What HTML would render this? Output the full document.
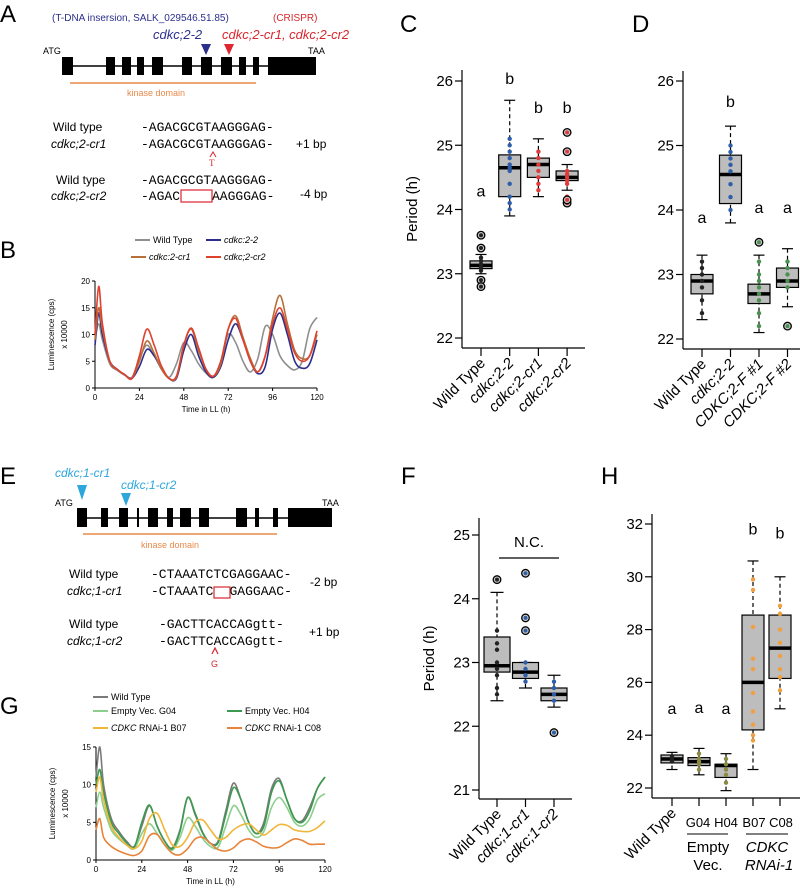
<!DOCTYPE html>
<html><head><meta charset="utf-8"><style>
body{margin:0;background:#fff}
svg{display:block;font-family:"Liberation Sans",sans-serif}
.mono{font-family:"Liberation Mono",monospace;font-size:13px;white-space:pre}
</style></head><body>
<svg id="fig" width="800" height="890" viewBox="0 0 800 890" xmlns="http://www.w3.org/2000/svg" xml:space="preserve">
<g font-size="24">
<text x="0" y="22">A</text>
<text x="0" y="258">B</text>
<text x="400" y="32">C</text>
<text x="632" y="32">D</text>
<text x="0" y="484">E</text>
<text x="0" y="714">G</text>
<text x="401" y="484">F</text>
<text x="601" y="484">H</text>
</g>
<g>
<text x="52" y="21" font-size="10" fill="#2b2f8c">(T-DNA insersion, SALK_029546.51.85)</text>
<text x="273" y="21" font-size="10" fill="#d8262e">(CRISPR)</text>
<text x="153" y="39" font-size="13" font-style="italic" fill="#2b2f8c">cdkc;2-2</text>
<text x="222" y="39" font-size="13" font-style="italic" fill="#d8262e">cdkc;2-cr1, cdkc;2-cr2</text>
<polygon points="201,44 211,44 206,55" fill="#2b2f8c"/>
<polygon points="224,44 234,44 229,55" fill="#e0262e"/>
<text x="43" y="54" font-size="9">ATG</text>
<text x="308" y="54" font-size="9">TAA</text>
<line x1="62" y1="66" x2="300" y2="66" stroke="#000" stroke-width="1.5"/>
<g id="exA"></g>
<line x1="70" y1="83" x2="256" y2="83" stroke="#e8894a" stroke-width="1.5"/>
<text x="127" y="96" font-size="9" fill="#e8894a">kinase domain</text>
<text x="53" y="131" font-size="12">Wild type</text>
<text x="51" y="148" font-size="12" font-style="italic">cdkc;2-cr1</text>
<text x="141" y="131" class="mono">-AGACGCGTAAGGGAG-</text>
<text x="141" y="148" class="mono">-AGACGCGTAAGGGAG-</text>
<text x="296" y="148" font-size="12">+1 bp</text>
<path d="M210,157 L213,152 L216,157" fill="none" stroke="#d8262e" stroke-width="1"/>
<text x="209" y="166" font-size="9" fill="#d8262e" font-family="Liberation Serif">T</text>
<text x="56" y="184" font-size="12">Wild type</text>
<text x="51" y="200" font-size="12" font-style="italic">cdkc;2-cr2</text>
<text x="141" y="184" class="mono">-AGACGCGTAAGGGAG-</text>
<text x="141" y="200" class="mono">-AGAC</text>
<text x="212" y="200" class="mono">AAGGGAG-</text>
<rect x="181" y="190" width="31" height="12" fill="none" stroke="#d8262e" stroke-width="1.2"/>
<text x="300" y="198" font-size="12">-4 bp</text>
</g>
<g>
<text x="55" y="477" font-size="12" font-style="italic" fill="#2ea6dc">cdkc;1-cr1</text>
<text x="121" y="489" font-size="12" font-style="italic" fill="#2ea6dc">cdkc;1-cr2</text>
<polygon points="77,485 87,485 82,500" fill="#2ea6dc"/>
<polygon points="121,493 131,493 126,506" fill="#2ea6dc"/>
<text x="55" y="506" font-size="9">ATG</text>
<text x="322" y="506" font-size="9">TAA</text>
<line x1="77" y1="518" x2="320" y2="518" stroke="#000" stroke-width="1.5"/>
<g id="exE"></g>
<line x1="83" y1="534" x2="277" y2="534" stroke="#e8894a" stroke-width="1.5"/>
<text x="141" y="548" font-size="9" fill="#e8894a">kinase domain</text>
<text x="69" y="578" font-size="12">Wild type</text>
<text x="67" y="595" font-size="12" font-style="italic">cdkc;1-cr1</text>
<text x="151" y="578" class="mono">-CTAAATCTCGAGGAAC-</text>
<text x="151" y="595" class="mono">-CTAAATC</text>
<text x="229.5" y="595" class="mono">GAGGAAC-</text>
<rect x="214" y="587" width="16" height="11" fill="none" stroke="#d8262e" stroke-width="1.2"/>
<text x="310" y="586" font-size="12">-2 bp</text>
<text x="69" y="628" font-size="12">Wild type</text>
<text x="67" y="645" font-size="12" font-style="italic">cdkc;1-cr2</text>
<text x="159" y="628" class="mono">-GACTTCACCAGgtt-</text>
<text x="159" y="645" class="mono">-GACTTCACCAGgtt-</text>
<text x="309" y="636" font-size="12">+1 bp</text>
<path d="M212,654 L215,648 L218,654" fill="none" stroke="#d8262e" stroke-width="1.2"/>
<text x="211" y="667" font-size="9" fill="#d8262e">G</text>
</g>
<g id="charts"></g>
</svg>
<script>
const times=[0,2,4,8,12,16,20,24,28,32,36,40,44,48,52,56,60,64,68,72,76,80,84,88,92,96,100,104,108,112,116,120];
const B_wt=[9,12,9,4.5,3.3,2.4,2,5.5,8,6,4,2,4.5,8.5,7,4.5,2.8,2,5,10,8.5,5,3,5.5,11.5,10,6,4.2,3.4,5,11,13.2];
const B_cdkc22=[8,14,10,5,3.5,2.5,1.8,4,7.2,6,3.5,1.8,1.8,7,10,6,3,2,4,9,12,9,5,2.7,4,11,14,10,5,3.7,4.5,9];
const B_cr1=[9,15,11,5,3.5,2.5,1.8,5,8.8,6.5,3.5,1.8,2,8,11,7,3.5,2.2,4.5,11,13.5,9.5,5.5,3,6,13,17.3,12,7,5.5,6,10];
const B_cr2=[10,19,12,5,3.5,2.5,1.8,6,11,8,4,1.8,2.2,8,11.2,7.5,3.5,2.2,5,11,13,9,5,3,6,12,15,11,6.5,5,6,10.7];
const G_wt=[11,15,10,5.5,3.8,2.5,1.8,4.5,7.2,4.5,2.5,1.6,4,8.3,6,3.5,2.2,2.5,6.5,10.2,8,5,3.5,5,9.5,10.8,8,5.5,5.2,7,9.5,11];
const G_h04=[10,12,9,5,3.5,2.3,1.7,5,7.3,4.5,2.5,1.5,3.8,8.3,6.2,3.6,2.2,2.3,6,9.6,8,5,3.5,4.5,9,10.5,8,5.5,5,6.5,9.5,11];
const G_g04=[7,9,7,4,2.8,2,1.5,3.5,4.8,3.5,2,1.3,3,5.6,4.5,2.8,1.8,1.7,4.5,7.2,6,4,3,3.8,7,8.3,7,5,4.5,5.5,8,8.8];
const G_b07=[9,11,8,4.5,3,2,1.5,2.5,5.5,6.2,4,2,1.8,3,5,5.3,4,2.8,3,4,4.6,4.8,4,3.3,4,4.7,4.6,4,3.8,3.8,4.3,5.2];
const G_c08=[4,5.5,3,1.8,1.2,0.8,0.6,1.2,3.2,3.4,2,0.9,0.7,1.5,2.8,3,2.2,1.4,1.2,1.6,2.5,2.8,2.4,1.8,1.6,1.7,2.3,2.8,2.6,2.1,2.1,2.1];
const xTicksLL=[0,24,48,72,96,120];
const B_yTicks=[0,5,10,15,20];
const G_yTicks=[0,5,10,15];
const C_cats=["Wild Type","cdkc;2-2","cdkc;2-cr1","cdkc;2-cr2"];
const C_lo=[23.0,23.9,24.2,24.3], C_q1=[23.08,24.2,24.5,24.45], C_med=[23.13,24.65,24.7,24.5], C_q3=[23.2,24.85,24.8,24.6], C_hi=[23.3,25.7,25.1,24.7];
const C_out=[[23.6,23.4,22.9,22.8],[],[],[25.2,24.9,24.1,24.15]];
const C_pts=[[23.1,23.15,23.2,23.25,23.05],[24.0,24.1,24.2,24.4,24.6,24.65,24.7,24.8,24.9,25.0,25.1],[24.3,24.4,24.5,24.6,24.7,24.8,24.9],[24.4,24.45,24.5,24.55,24.6,24.2]];
const C_letters=["a","b","b","b"], C_letterY=[24.2,25.95,25.5,25.5];
const C_yTicks=[22,23,24,25,26];
const D_cats=["Wild Type","cdkc;2-2","CDKC;2-F #1","CDKC;2-F #2"];
const D_lo=[22.3,23.8,22.1,22.5], D_q1=[22.7,24.1,22.55,22.8], D_med=[22.9,24.55,22.7,22.9], D_q3=[23.0,24.85,22.85,23.1], D_hi=[23.3,25.3,23.3,23.4];
const D_out=[[],[],[23.5],[22.2]];
const D_pts=[[22.4,22.6,22.8,22.9,23.0,23.1,23.2],[24.0,24.2,24.4,24.6,24.7,24.8,24.9,25.0],[22.2,22.4,22.6,22.7,22.8,22.9,23.0,23.2],[22.8,22.9,23.0,23.1,23.2]];
const D_letters=["a","b","a","a"], D_letterY=[23.8,25.6,23.95,23.95];
const D_yTicks=[22,23,24,25,26];
const F_cats=["Wild Type","cdkc;1-cr1","cdkc;1-cr2"];
const F_lo=[22.4,22.6,22.3], F_q1=[22.85,22.75,22.4], F_med=[22.95,22.85,22.5], F_q3=[23.4,23.0,22.6], F_hi=[24.1,23.0,22.8];
const F_out=[[24.3],[24.4,23.7,23.5],[21.9]];
const F_pts=[[22.5,22.6,22.8,22.9,23.0,23.2,23.3,23.5],[22.7,22.8,22.9,23.0],[22.4,22.5,22.6,22.7]];
const F_yTicks=[21,22,23,24,25];
const H_cats=["Wild Type","G04","H04","B07","C08"];
const H_lo=[22.7,22.5,21.9,22.7,25.0], H_q1=[22.95,22.85,22.4,24.2,26.15], H_med=[23.1,23.0,22.85,26.0,27.3], H_q3=[23.25,23.15,22.9,28.55,28.55], H_hi=[23.35,23.5,23.3,30.6,30.0];
const H_pts=[[23.0,23.1,23.2],[22.7,22.9,23.0,23.1,23.3],[22.2,22.5,22.7,22.9,23.1],[23.8,24.0,24.4,24.9,25.6,26.5,26.9,28.1,29.5,29.9],[25.7,26.2,26.5,27.0,27.5,28.0,28.6,28.9]];
const H_letters=["a","a","a","b","b"], H_letterY=[24.8,24.85,24.8,31.6,31.45];
const H_yTicks=[22,24,26,28,30,32];
const exA=[[62,73],[106,115],[122,131],[137,144],[152,163],[182,192],[201,212],[221,232],[239,246],[253,259],[268,316]];
const exE=[[77,87],[101,108],[119,128],[137,139],[148,158],[167,173],[180,191],[199,209],[236,247],[255,259],[273,278],[288,332]];

const NS="http://www.w3.org/2000/svg";
const root=document.getElementById('charts');
function mk(tag,attrs,parent){const e=document.createElementNS(NS,tag);for(const k in attrs)e.setAttribute(k,attrs[k]);(parent||root).appendChild(e);return e;}
function txt(s,attrs,parent){const e=mk('text',attrs,parent);e.textContent=s;return e;}

exA.forEach(r=>{const e=mk('rect',{x:r[0],y:57,width:r[1]-r[0],height:18,fill:'#000'},document.getElementById('exA'));

});
exE.forEach(r=>{const e=mk('rect',{x:r[0],y:508,width:r[1]-r[0],height:19,fill:'#000'},document.getElementById('exE'));

});

function smooth(pts){let d=`M${pts[0][0]},${pts[0][1]}`;for(let i=0;i<pts.length-1;i++){const p0=pts[i-1]||pts[i],p1=pts[i],p2=pts[i+1],p3=pts[i+2]||p2;
const c1=[p1[0]+(p2[0]-p0[0])/6,p1[1]+(p2[1]-p0[1])/6],c2=[p2[0]-(p3[0]-p1[0])/6,p2[1]-(p3[1]-p1[1])/6];
d+=` C${c1[0].toFixed(1)},${c1[1].toFixed(1)} ${c2[0].toFixed(1)},${c2[1].toFixed(1)} ${p2[0].toFixed(1)},${p2[1].toFixed(1)}`;}return d;}

function lineChart(o){
  const g=mk('g',{});
  
  
  const x=t=>o.x0+t*(o.x1-o.x0)/120, y=v=>o.y0-v*(o.y0-o.yTop)/o.ymax;
  mk('line',{x1:o.x0,y1:o.yTop,x2:o.x0,y2:o.y0,stroke:'#000','stroke-width':1},g);
  mk('line',{x1:o.x0,y1:o.y0,x2:o.x1,y2:o.y0,stroke:'#000','stroke-width':1},g);
  o.yTicks.forEach(v=>{mk('line',{x1:o.x0-3,y1:y(v),x2:o.x0,y2:y(v),stroke:'#000'},g);
    const t=txt(String(v),{x:o.x0-5,y:y(v)+3,'font-size':8,'text-anchor':'end'},g);
    
    });
  xTicksLL.forEach(v=>{mk('line',{x1:x(v),y1:o.y0,x2:x(v),y2:o.y0+3,stroke:'#000'},g);
    const t=txt(String(v),{x:x(v),y:o.y0+12,'font-size':8,'text-anchor':'middle'},g);
    
    });
  const xt=txt('Time in LL (h)',{x:(o.x0+o.x1)/2,y:o.y0+24,'font-size':8,'text-anchor':'middle'},g);
  
  
  const cy=(o.y0+o.yTop)/2;
  const yt=txt('Luminescence (cps)',{x:0,y:0,'font-size':8,'text-anchor':'middle',transform:`translate(${o.x0-41},${cy}) rotate(-90)`},g);
  
  
  const yt2=txt('x 10000',{x:0,y:0,'font-size':8,'text-anchor':'middle',transform:`translate(${o.x0-28},${cy}) rotate(-90)`},g);
  
  
  o.series.forEach(s=>{const p=mk('path',{d:smooth(times.map((t,i)=>[x(t),y(s.v[i])])),fill:'none',stroke:s.c,'stroke-width':s.w||1.6},g);
    
    });
}
lineChart({name:'panel-b-chart',x0:95,x1:317,y0:388,yTop:281,ymax:20,yTicks:B_yTicks,series:[
 {id:'wild-type',v:B_wt,c:'#8f8f8f'},{id:'cdkc2-2',v:B_cdkc22,c:'#2b2f8c'},{id:'cdkc2-cr1',v:B_cr1,c:'#b8703a'},{id:'cdkc2-cr2',v:B_cr2,c:'#e0402e'}]});
lineChart({name:'panel-g-chart',x0:96,x1:325,y0:860,yTop:747,ymax:15,yTicks:G_yTicks,series:[
 {id:'wild-type',v:G_wt,c:'#7a7a7a'},{id:'empty-g04',v:G_g04,c:'#8ccf8c'},{id:'empty-h04',v:G_h04,c:'#3c9a50'},{id:'rnai-b07',v:G_b07,c:'#f0b63a'},{id:'rnai-c08',v:G_c08,c:'#e8843a'}]});

function legend(items){items.forEach(it=>{const g=mk('g',{});
  
  
  mk('line',{x1:it.x,y1:it.y,x2:it.x+15,y2:it.y,stroke:it.c,'stroke-width':2},g);
  const t=mk('text',{x:it.x+18,y:it.y+3,'font-size':9},g);
  it.parts.forEach(p=>{const s=mk('tspan',{'font-style':p[1]?'italic':'normal'},t);s.textContent=p[0];});});}
legend([{x:135,y:240,c:'#8f8f8f',parts:[['Wild Type',0]]},{x:206,y:240,c:'#2b2f8c',parts:[['cdkc:2-2',1]]},
 {x:131,y:257,c:'#b8703a',parts:[['cdkc:2-cr1',1]]},{x:206,y:257,c:'#e0402e',parts:[['cdkc;2-cr2',1]]}]);
legend([{x:93,y:697,c:'#7a7a7a',parts:[['Wild Type',0]]},{x:93,y:711,c:'#8ccf8c',parts:[['Empty Vec. G04',0]]},{x:227,y:711,c:'#3c9a50',parts:[[' Empty Vec. H04',0]]},
 {x:93,y:728,c:'#f0b63a',parts:[['CDKC',1],[' RNAi-1 B07',0]]},{x:227,y:728,c:'#e8843a',parts:[['CDKC',1],[' RNAi-1 C08',0]]}]);

function boxChart(o){
  const g=mk('g',{});
  
  
  const y=v=>o.yb-(v-o.vb)*o.k;
  const n=o.cats.length, cx=i=>o.cx0+i*o.dx, hw=o.bw/2;
  mk('line',{x1:o.ax,y1:o.top,x2:o.ax,y2:o.bottom,stroke:'#000','stroke-width':1.2},g);
  mk('line',{x1:o.ax,y1:o.bottom,x2:o.right,y2:o.bottom,stroke:'#000','stroke-width':1.2},g);
  o.yTicks.forEach(v=>{mk('line',{x1:o.ax-7,y1:y(v),x2:o.ax,y2:y(v),stroke:'#000','stroke-width':1.2},g);
    const t=txt(String(v),{x:o.ax-9,y:y(v)+5,'font-size':15,'text-anchor':'end'},g);
    
    });
  if(o.ytitle){const t=txt('Period (h)',{x:0,y:0,'font-size':15,'text-anchor':'middle',transform:`translate(${o.ax-45},${(o.top+o.bottom)/2}) rotate(-90)`},g);
    
    }
  for(let i=0;i<n;i++){const x=cx(i);
    mk('line',{x1:x,y1:o.bottom,x2:x,y2:o.bottom+8,stroke:'#000','stroke-width':1.2},g);
    const bg=mk('g',{},g);
    
    
    mk('line',{x1:x,y1:y(o.hi[i]),x2:x,y2:y(o.q3[i]),stroke:'#000','stroke-dasharray':'4,3','stroke-width':1.2},bg);
    mk('line',{x1:x,y1:y(o.lo[i]),x2:x,y2:y(o.q1[i]),stroke:'#000','stroke-dasharray':'4,3','stroke-width':1.2},bg);
    mk('line',{x1:x-hw/2,y1:y(o.hi[i]),x2:x+hw/2,y2:y(o.hi[i]),stroke:'#000','stroke-width':1.2},bg);
    mk('line',{x1:x-hw/2,y1:y(o.lo[i]),x2:x+hw/2,y2:y(o.lo[i]),stroke:'#000','stroke-width':1.2},bg);
    mk('rect',{x:x-hw,y:y(o.q3[i]),width:o.bw,height:Math.max(1,y(o.q1[i])-y(o.q3[i])),fill:'#bdbdbd',stroke:'#000','stroke-width':1.2},bg);
    mk('line',{x1:x-hw,y1:y(o.med[i]),x2:x+hw,y2:y(o.med[i]),stroke:'#000','stroke-width':3.5},bg);
    (o.pts[i]||[]).forEach(v=>{const c=mk('circle',{cx:x,cy:y(v),r:2.2,fill:o.col[i]},bg);
      
      });
    ((o.out&&o.out[i])||[]).forEach(v=>{const c=mk('circle',{cx:x,cy:y(v),r:3.8,fill:'#c8c8c8',stroke:'#000','stroke-width':1.3},bg);
      
      
      mk('circle',{cx:x,cy:y(v),r:2,fill:o.col[i]},bg);});
    if(o.letters){const t=txt(o.letters[i],{x:x,y:y(o.letterY[i]),'font-size':16,'text-anchor':'middle'},g);
      
      }
    if(o.rot){const t=txt(o.cats[i],{x:0,y:0,'font-size':15,'text-anchor':'end','font-style':o.ital[i]?'italic':'normal',transform:`translate(${x+5},${o.bottom+16}) rotate(-45)`},g);
      
      }
  }
}
boxChart({name:'panel-c-chart',cats:C_cats,lo:C_lo,q1:C_q1,med:C_med,q3:C_q3,hi:C_hi,out:C_out,pts:C_pts,letters:C_letters,letterY:C_letterY,yTicks:C_yTicks,
 col:['#222','#2f5ea8','#e03a3a','#e03a3a'],ital:[0,1,1,1],rot:1,ytitle:1,yb:338,vb:22,k:64.25,ax:462,top:70,bottom:348,right:585,cx0:481,dx:28.7,bw:22});
boxChart({name:'panel-d-chart',cats:D_cats,lo:D_lo,q1:D_q1,med:D_med,q3:D_q3,hi:D_hi,out:D_out,pts:D_pts,letters:D_letters,letterY:D_letterY,yTicks:D_yTicks,
 col:['#222','#2f5ea8','#4a9050','#4a9050'],ital:[0,1,1,1],rot:1,yb:339,vb:22,k:64.5,ax:683,top:71,bottom:349,right:800,cx0:702,dx:28.5,bw:22});
boxChart({name:'panel-f-chart',cats:F_cats,lo:F_lo,q1:F_q1,med:F_med,q3:F_q3,hi:F_hi,out:F_out,pts:F_pts,yTicks:F_yTicks,
 col:['#222','#2f5ea8','#2f5ea8'],ital:[0,1,1],rot:1,ytitle:1,yb:790,vb:21,k:63.75,ax:479,top:518,bottom:799,right:572,cx0:497,dx:28.5,bw:26});
boxChart({name:'panel-h-chart',cats:H_cats,lo:H_lo,q1:H_q1,med:H_med,q3:H_q3,hi:H_hi,pts:H_pts,letters:H_letters,letterY:H_letterY,yTicks:H_yTicks,
 col:['#222','#8a8a40','#8a8a40','#f0a040','#f0a040'],yb:788,vb:22,k:26.4,ax:652,top:514,bottom:798,right:800,cx0:672,dx:27,bw:22});
txt('N.C.',{x:529,y:547,'font-size':15,'text-anchor':'middle',});
mk('line',{x1:499,y1:558,x2:559,y2:558,stroke:'#000','stroke-width':1.2,});
txt('Wild Type',{x:0,y:0,'font-size':15,'text-anchor':'end',transform:'translate(677,814) rotate(-45)',});
[['G04',698],['H04',726],['B07',754],['C08',781]].forEach(a=>{const t=txt(a[0],{x:a[1],y:827,'font-size':13,'text-anchor':'middle'});
 
 });
mk('line',{x1:687,y1:834,x2:728,y2:834,stroke:'#000'});
mk('line',{x1:746,y1:834,x2:788,y2:834,stroke:'#000'});
txt('Empty',{x:708,y:852,'font-size':15,'text-anchor':'middle',});
txt('Vec.',{x:708,y:870,'font-size':15,'text-anchor':'middle',});
txt('CDKC',{x:767,y:852,'font-size':15,'font-style':'italic','text-anchor':'middle',});
txt('RNAi-1',{x:769,y:870,'font-size':15,'font-style':'italic','text-anchor':'middle',});
</script>
</body></html>
